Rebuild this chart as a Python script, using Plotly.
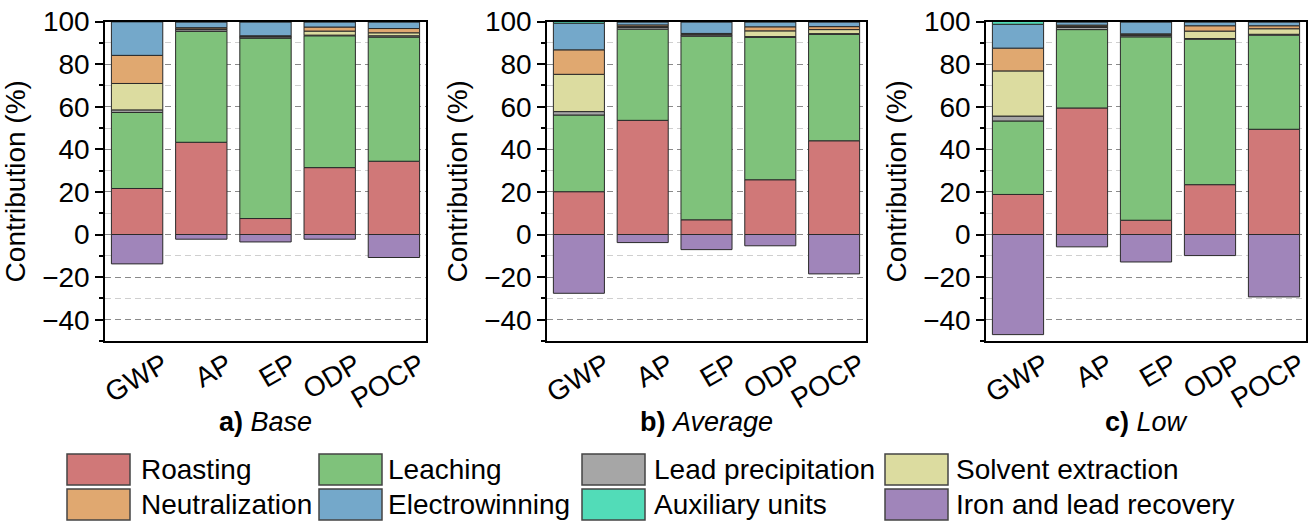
import plotly.graph_objects as go

W, H = 1309, 521

categories = ["GWP", "AP", "EP", "ODP", "POCP"]
series_names = ["Roasting", "Leaching", "Lead precipitation", "Solvent extraction",
                "Neutralization", "Electrowinning", "Auxiliary units", "Iron and lead recovery"]
colors = ["#D07878", "#7FC27B", "#A6A6A6", "#DCDCA0",
          "#E0A870", "#74A8CA", "#52DCB8", "#A085BA"]

# Scenario a) Base
base_roasting = [21.6, 43.3, 7.5, 31.4, 34.4]
base_leaching = [35.7, 52.1, 84.7, 61.9, 58.3]
base_leadprec = [1.2, 0.8, 0.6, 0.3, 0.6]
base_solvent = [12.4, 0.3, 0.2, 1.9, 1.4]
base_neutral = [13.2, 0.6, 0.3, 1.9, 2.0]
base_electro = [15.8, 2.7, 6.5, 2.4, 3.1]
base_aux = [0.1, 0.2, 0.2, 0.2, 0.2]
base_ironlead = [-13.8, -2.2, -3.5, -2.2, -10.8]

# Scenario b) Average
avg_roasting = [20.1, 53.6, 6.9, 25.7, 44.0]
avg_leaching = [36.0, 42.8, 86.2, 66.9, 50.0]
avg_leadprec = [1.6, 0.8, 0.6, 0.3, 0.3]
avg_solvent = [17.5, 0.4, 0.3, 2.7, 1.9]
avg_neutral = [11.5, 0.8, 0.4, 1.9, 1.4]
avg_electro = [12.5, 1.4, 5.4, 2.3, 2.2]
avg_aux = [0.8, 0.2, 0.2, 0.2, 0.2]
avg_ironlead = [-27.6, -3.8, -7.1, -5.3, -18.5]

# Scenario c) Low
low_roasting = [18.8, 59.4, 6.7, 23.4, 49.4]
low_leaching = [34.5, 36.8, 86.1, 68.3, 44.2]
low_leadprec = [2.3, 1.0, 0.7, 0.3, 0.4]
low_solvent = [21.2, 0.4, 0.3, 3.5, 2.6]
low_neutral = [10.7, 0.7, 0.4, 2.5, 1.4]
low_electro = [11.2, 1.5, 5.6, 1.8, 1.8]
low_aux = [1.3, 0.2, 0.2, 0.2, 0.2]
low_ironlead = [-47.0, -5.8, -12.9, -9.9, -29.3]

panel_titles = ["<b>a)</b> <i>Base</i>", "<b>b)</b> <i>Average</i>", "<b>c)</b> <i>Low</i>"]
y_ticks = [-40, -20, 0, 20, 40, 60, 80, 100]

scenarios = [
    [base_roasting, base_leaching, base_leadprec, base_solvent, base_neutral, base_electro, base_aux, base_ironlead],
    [avg_roasting, avg_leaching, avg_leadprec, avg_solvent, avg_neutral, avg_electro, avg_aux, avg_ironlead],
    [low_roasting, low_leaching, low_leadprec, low_solvent, low_neutral, low_electro, low_aux, low_ironlead],
]

FONT = "Liberation Sans, Arial, sans-serif"

# layout geometry (pixels)
x_domains_px = [(105, 426), (547, 866), (986, 1306)]
y_top_px, y_bot_px = 21.5, 341

fig = go.Figure()
for p, data in enumerate(scenarios):
    xa = "x" if p == 0 else f"x{p+1}"
    ya = "y" if p == 0 else f"y{p+1}"
    for name, col, vals in zip(series_names, colors, data):
        fig.add_trace(go.Bar(
            x=categories, y=vals, name=name, xaxis=xa, yaxis=ya,
            marker=dict(color=col, line=dict(color="#2a2a2a", width=1)),
            showlegend=False,
        ))

layout = dict(
    width=W, height=H,
    margin=dict(l=0, r=0, t=0, b=0, autoexpand=False),
    paper_bgcolor="white", plot_bgcolor="white",
    barmode="relative", bargap=0.2,
    font=dict(family=FONT, size=28, color="black"),
    showlegend=False,
)
for p in range(3):
    suf = "" if p == 0 else str(p + 1)
    x0, x1 = x_domains_px[p]
    layout[f"xaxis{suf}"] = dict(
        domain=[x0 / W, x1 / W], anchor=f"y{suf}", automargin=False,
        range=[-0.5, 4.5], type="category",
        showline=True, linecolor="black", linewidth=1.5, mirror=True,
        ticks="", tickangle=-30, ticklabelshift=26, ticklabelstandoff=-5,
        tickfont=dict(size=28), showgrid=False,
    )
    layout[f"yaxis{suf}"] = dict(
        domain=[1 - y_bot_px / H, 1 - y_top_px / H], anchor=f"x{suf}", automargin=False,
        range=[-50, 100], tickvals=y_ticks,
        showline=True, linecolor="black", linewidth=1.5, mirror=True,
        ticks="outside", ticklen=8, tickwidth=1.5, tickcolor="black",
        showgrid=True, gridcolor="#8a8a8a", gridwidth=1, griddash="6px,4px",
        zeroline=False,
        minor=dict(dtick=10, tick0=0, ticks="outside", ticklen=4, tickcolor="black",
                   showgrid=True, gridcolor="#cfcfcf", gridwidth=1, griddash="6px,4px"),
        title=dict(text="Contribution (%)", font=dict(size=28), standoff=8),
        tickfont=dict(size=28),
    )
fig.update_layout(**layout)

annotations = []
for p in range(3):
    x0, x1 = x_domains_px[p]
    annotations.append(dict(
        text=panel_titles[p], x=(x0 + x1) / 2 / W, y=1 - 422 / H,
        xref="paper", yref="paper", xanchor="center", yanchor="middle",
        showarrow=False, font=dict(size=27, family=FONT),
    ))

# legend built from series names
legend_order = [0, 1, 2, 3, 4, 5, 6, 7]
col_swatch_x = [67, 319, 582, 885]
col_text_x = [139, 386, 652, 954]
row_y = [(454, 485), (489, 520)]
shapes = []
for k, idx in enumerate(legend_order):
    r, c = divmod(k, 4)
    ya0, ya1 = row_y[r]
    sx = col_swatch_x[c]
    shapes.append(dict(
        type="rect", xref="paper", yref="paper",
        x0=sx / W, x1=(sx + 63) / W, y0=1 - ya1 / H, y1=1 - ya0 / H,
        fillcolor=colors[idx], line=dict(color="#444444", width=1.5),
    ))
    annotations.append(dict(
        text=series_names[idx], x=col_text_x[c] / W, y=1 - (ya0 + ya1) / 2 / H,
        xref="paper", yref="paper", xanchor="left", yanchor="middle",
        showarrow=False, font=dict(size=28, family=FONT),
    ))

fig.update_layout(annotations=annotations, shapes=shapes)
fig.write_html("out.html", config={"displayModeBar": False},
               post_script="document.body.style.margin='0';document.body.style.overflow='hidden';")
